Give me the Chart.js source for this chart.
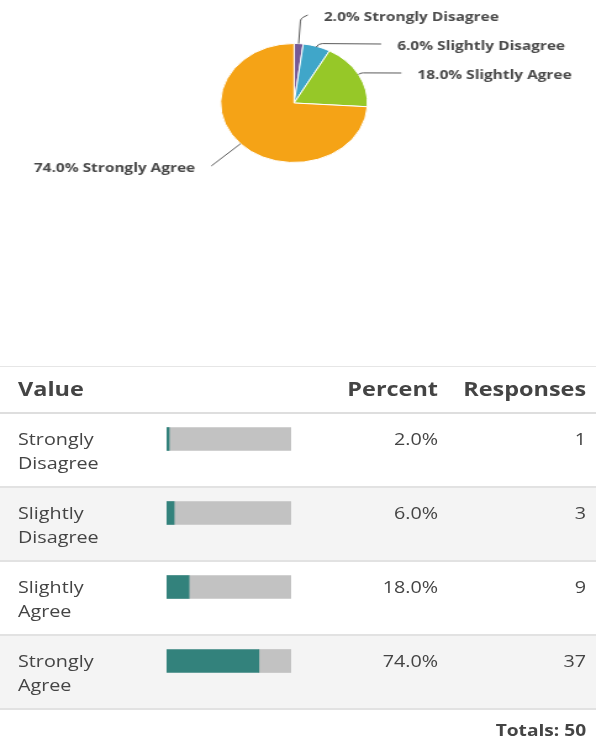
<!DOCTYPE html>
<html>
<head>
<meta charset="utf-8">
<script src="https://cdn.jsdelivr.net/npm/chart.js@4.4.0/dist/chart.umd.min.js"></script>
<style>
  body { margin: 0; background: #fff; overflow: hidden; }
  #page {
    position: relative;
    width: 483px;
    height: 738px;
    transform: scaleX(1.2339);
    transform-origin: 0 0;
    font-family: "Open Sans", sans-serif;
    color: #444;
  }
  #pieChart { position: absolute; left: 0; top: 0; }
  #barChart { position: absolute; left: 134.5px; top: 402px; }
  .grid { display: grid; grid-template-columns: 134.5px 101px 119.5px 128px; box-sizing: border-box; }
  .c1 { padding-left: 14.6px; padding-right: 30px; }
  .c3 { text-align: right; }
  .c4 { text-align: right; padding-right: 8px; }
  #head {
    position: absolute; left: 0; top: 366px; width: 483px; height: 48px;
    border-top: 1px solid #e6e6e6; border-bottom: 2px solid #dedede;
    font-weight: 700; font-size: 19px; line-height: 45px; color: #444;
  }
  #rows { position: absolute; left: 0; top: 414px; width: 483px; }
  .row {
    height: 74px; border-bottom: 2px solid #e2e2e2;
    font-size: 16px; line-height: 24px; padding-top: 13px;
  }
  .row.alt { background: #f4f4f4; }
  #totals {
    position: absolute; left: 0; top: 716px; width: 475px; height: 28px;
    line-height: 28px; text-align: right; font-weight: 700; font-size: 15.5px;
  }
</style>
</head>
<body>
<div id="page">
  <canvas id="pieChart" width="483" height="250"></canvas>
  <div id="head" class="grid">
    <div class="c1">Value</div><div></div><div class="c3">Percent</div><div class="c4">Responses</div>
  </div>
  <div id="rows"></div>
  <canvas id="barChart" width="101" height="296"></canvas>
  <div id="totals"></div>
</div>
<script>
const categories = ['Strongly Disagree', 'Slightly Disagree', 'Slightly Agree', 'Strongly Agree'];
const percents = [2.0, 6.0, 18.0, 74.0];
const responses = [1, 3, 9, 37];

const sliceColors = ['#765a96', '#40a6c9', '#96c828', '#f5a316'];
const barColor = '#33827c';
const barTrack = '#c2c2c2';

const LABEL_RADIUS = 92;
const LABEL_GAP = 29;
const TOP_LIMIT = 15;

const pieLabels = {
  id: 'pieLabels',
  afterDraw(chart) {
    const ctx = chart.ctx;
    const arcs = chart.getDatasetMeta(0).data;
    const items = arcs.map((arc, i) => {
      const p = arc.getProps(['x', 'y', 'startAngle', 'endAngle', 'outerRadius'], true);
      const mid = (p.startAngle + p.endAngle) / 2;
      const dx = Math.cos(mid);
      const dy = Math.sin(mid);
      return { i, cx: p.x, cy: p.y, r: p.outerRadius, dx, dy, right: dx >= 0, y: p.y + LABEL_RADIUS * dy };
    });

    // push labels apart on each side
    [true, false].forEach(side => {
      const group = items.filter(it => it.right === side).sort((a, b) => a.y - b.y);
      let prev = -Infinity;
      group.forEach(it => {
        it.y = Math.max(it.y, TOP_LIMIT, prev + LABEL_GAP);
        prev = it.y;
      });
    });

    ctx.save();
    ctx.strokeStyle = '#5a5a5a';
    ctx.lineWidth = 1;
    ctx.fillStyle = '#4a4a4a';
    ctx.font = '700 12.5px "Open Sans", sans-serif';
    ctx.textBaseline = 'middle';
    items.forEach(it => {
      const off = it.y - it.cy;
      const sign = it.right ? 1 : -1;
      // labels close to the top sit nearer the slice
      const rad = Math.abs(off) > 80 ? it.r + 29.2 : LABEL_RADIUS;
      const ex = it.cx + sign * Math.sqrt(Math.max(rad * rad - off * off, 0));
      const sx = it.cx + it.r * it.dx;
      const sy = it.cy + it.r * it.dy;
      let t = Math.abs(it.dy) > 0.05 ? off / it.dy : it.r + 8;
      t = Math.min(Math.max(t, it.r + 3), rad - 4);
      const bx = it.cx + t * it.dx;
      const by = it.cy + t * it.dy;
      ctx.beginPath();
      ctx.moveTo(sx, sy);
      ctx.arcTo(bx, by, ex, it.y, 5);
      ctx.lineTo(ex, it.y);
      ctx.stroke();

      const text = percents[it.i].toFixed(1) + '% ' + categories[it.i];
      ctx.textAlign = it.right ? 'left' : 'right';
      ctx.fillText(text, ex + sign * 13, it.y + 2.5);
    });
    ctx.restore();
  }
};

function renderPie() {
  new Chart(document.getElementById('pieChart'), {
    type: 'pie',
    data: {
      labels: categories,
      datasets: [{
        data: percents,
        backgroundColor: sliceColors,
        borderColor: '#ffffff',
        borderWidth: 1
      }]
    },
    options: {
      responsive: false,
      animation: false,
      layout: { padding: { left: 178.3, right: 184.7, top: 43, bottom: 87 } },
      plugins: { legend: { display: false }, tooltip: { enabled: false } }
    },
    plugins: [pieLabels]
  });
}

function renderRows() {
  const rows = document.getElementById('rows');
  rows.innerHTML = categories.map((cat, i) => `
    <div class="row grid ${i % 2 ? 'alt' : ''}">
      <div class="c1">${cat}</div>
      <div></div>
      <div class="c3">${percents[i].toFixed(1)}%</div>
      <div class="c4">${responses[i]}</div>
    </div>
  `).join('');
  const total = responses.reduce((a, b) => a + b, 0);
  document.getElementById('totals').textContent = 'Totals: ' + total;
}

function renderBars() {
  new Chart(document.getElementById('barChart'), {
    type: 'bar',
    data: {
      labels: categories,
      datasets: [
        { data: percents, backgroundColor: barColor, barThickness: 23 },
        { data: percents.map(p => 100 - p), backgroundColor: barTrack, barThickness: 23 }
      ]
    },
    options: {
      indexAxis: 'y',
      responsive: false,
      animation: false,
      layout: { padding: 0 },
      plugins: { legend: { display: false }, tooltip: { enabled: false } },
      scales: {
        x: { stacked: true, min: 0, max: 100, display: false },
        y: { stacked: true, display: false }
      }
    }
  });
}

renderPie();
renderRows();
renderBars();
</script>
</body>
</html>
